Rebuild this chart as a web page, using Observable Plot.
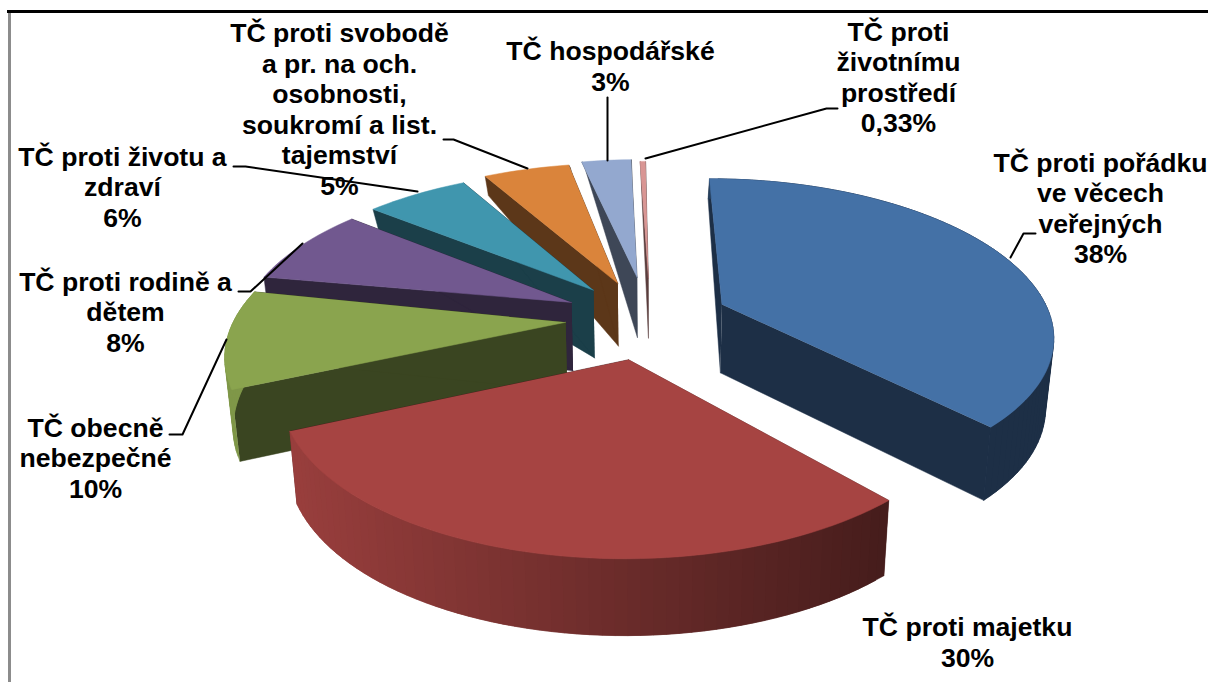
<!DOCTYPE html>
<html><head><meta charset="utf-8">
<style>html,body{margin:0;background:#fff}svg{display:block}</style>
<script src="https://cdn.jsdelivr.net/npm/d3@7"></script>
<script src="https://cdn.jsdelivr.net/npm/@observablehq/plot@0.6"></script>
</head><body><div id="chart"></div>
<script>
// data
const categories = ["TČ proti pořádku\nve věcech\nveřejných","TČ proti majetku","TČ obecně\nnebezpečné","TČ proti rodině a\ndětem","TČ proti životu a\nzdraví","TČ proti svobodě\na pr. na och.\nosobnosti,\nsoukromí a list.\ntajemství","TČ hospodářské","TČ proti\nživotnímu\nprostředí"];
const shares = [38,30,10,8,6,5,3,0.33];
const shareLabels = ["38%","30%","10%","8%","6%","5%","3%","0,33%"];
const colors = ["#4471A6","#A64442","#8AA44E","#71588F","#4096AE","#DA843B","#93A8CF","#D99694"];
// layout
const explode = [0.27,0.24,0.235,0.26,0.26,0.28,0.3,0.3];
const radius = [1.01,0.98,1,1.01,1,1.02,1.01,1];
const wide = [1.01,1.033,1.025,1.015,1.04,1.03,1,1];
const turn = [-0.9,1.2,1.2,-0.5,0,0,-1.3,-1.5];
const shiftX = [1,4,0,5,4,6,7,9];
const shiftY = [-2,1,-3,-3,-2,0,-1,0];
const paintOrder = [7,6,5,4,3,2,0,1];
const outerWall = [true,true,true,false,false,false,false,false];
const labelX = [1100,967,95,125,122,339,610,898];
const labelY = [207,641,457,311,186,108,65,76];
const leaders = [
  [[1035,233],[1023,233],[1010,257]],
  [],
  [[169,434],[182,434],[226,339]],
  [[238,291],[250,291],[302,243]],
  [[233,166],[245,166],[417,191]],
  [[443,139],[453,139],[527,168]],
  [[607,97],[607,160]],
  [[837,108],[826,108],[645,158]]
];
const view = {cx:641, cy:321, Rx:323, Ry:152, p:0.18, converge:0.02, rotate:0.8};

const total = d3.sum(shares);
let cum = 0;
const slices = shares.map((v,i)=>{
  const off=(view.rotate+turn[i])*Math.PI/180;
  const a0=off+cum/total*2*Math.PI; cum+=v;
  return {i,a0,a1:off+cum/total*2*Math.PI};
});
function wallHeight(Y){
  if(Y<0.2) return 69-6.5*Y;
  if(Y<0.8) return 67.7-79.5*(Y-0.2);
  if(Y<1.15) return 20;
  return Math.max(0,20-154*(Y-1.15));
}
function project(sl,a,r,low){
  const i=sl.i, mid=(sl.a0+sl.a1)/2, e=explode[i], R=r*radius[i];
  const X=e*Math.sin(mid)+R*wide[i]*Math.sin(a), Y=e*Math.cos(mid)+R*Math.cos(a);
  const s=1/(1+view.p*Y);
  let x=view.cx+view.Rx*X*s, y=view.cy-view.Ry*Y*s;
  if(low){ y+=wallHeight(Y); x=view.cx+(x-view.cx)*(1-view.converge); }
  return [x+shiftX[i],y+shiftY[i]];
}
const rows=[]; let pid=0;
function poly(pts,fill){ const id=pid++; for(const [x,y] of pts) rows.push({id,x,y,fill}); }
function shade(col,k){ const c=d3.rgb(col); return d3.rgb(c.r*k,c.g*k,c.b*k).formatHex(); }
for(const i of paintOrder){
  const sl=slices[i], col=colors[i], edge=shade(col,0.42);
  const n=Math.max(2,Math.ceil((sl.a1-sl.a0)/(2*Math.PI)*200));
  const ang=d3.range(n+1).map(k=>sl.a0+(sl.a1-sl.a0)*k/n);
  poly([project(sl,0,0,false),project(sl,sl.a0,1,false),project(sl,sl.a0,1,true),project(sl,0,0,true)],edge);
  poly([project(sl,0,0,false),project(sl,sl.a1,1,false),project(sl,sl.a1,1,true),project(sl,0,0,true)],edge);
  if(outerWall[i]) for(let k=0;k<n;k++){
    const b=ang[Math.min(n,k+2)];
    const p=project(sl,ang[k],1,false), q=project(sl,ang[k+1],1,false);
    const t=Math.min(1,Math.max(0,((p[0]+q[0])/2-289)/(888-289)));
    poly([p,project(sl,b,1,false),project(sl,b,1,true),project(sl,ang[k],1,true)],shade(col,0.92-0.5*t));
  }
  poly([project(sl,0,0,false),...ang.map(a=>project(sl,a,1,false))],col);
}
const leaderRows = leaders.flatMap((pts,i)=>pts.map(([x,y])=>({i,x,y})));
const labels = categories.map((c,i)=>({x:labelX[i],y:labelY[i],text:c+"\n"+shareLabels[i]}));

const plot = Plot.plot({
  width:1208,height:682,margin:0,
  style:{background:"#fff"},
  x:{domain:[0,1208],axis:null},
  y:{domain:[682,0],axis:null},
  marks:[
    Plot.ruleX([9],{y1:11,y2:682,stroke:"#8c8c8c",strokeWidth:3}),
    Plot.ruleY([11],{x1:7,x2:1208,stroke:"#000",strokeWidth:3}),
    Plot.line(rows,{x:"x",y:"y",z:"id",fill:"fill",stroke:"fill",strokeWidth:0.5,curve:"linear"}),
    Plot.line(leaderRows,{x:"x",y:"y",z:"i",stroke:"#000",strokeWidth:2,curve:"linear"}),
    Plot.text(labels,{x:"x",y:"y",text:"text",fontFamily:"Liberation Sans, Arial, sans-serif",fontWeight:"bold",fontSize:26.6,lineHeight:1.147,fill:"#000",textAnchor:"middle"})
  ]
});
document.getElementById("chart").append(plot);
</script></body></html>
